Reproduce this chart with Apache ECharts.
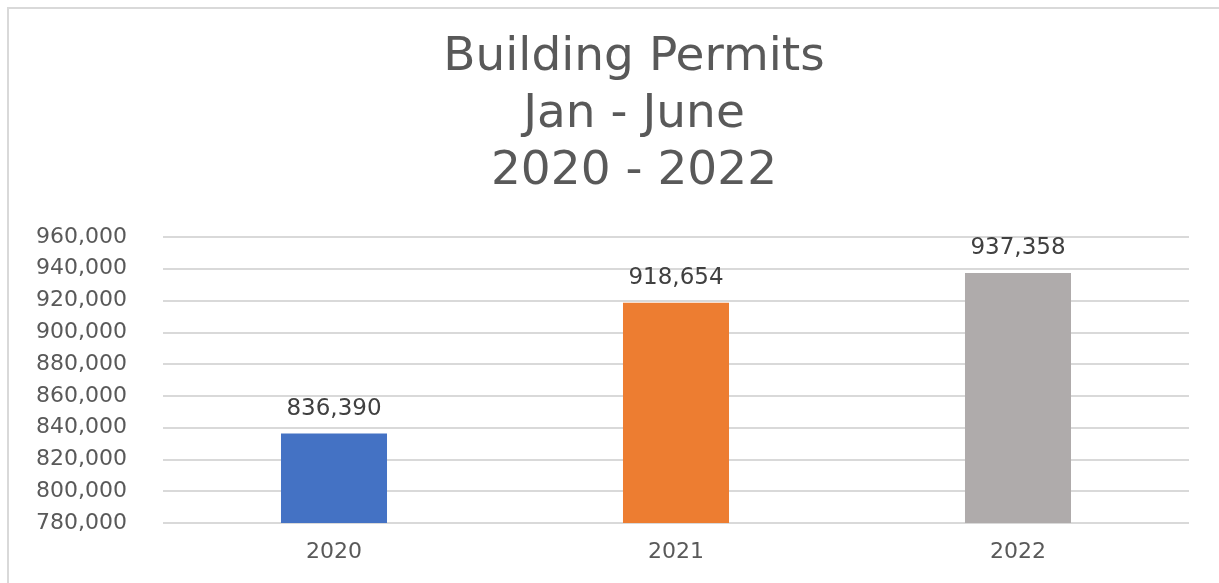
<!DOCTYPE html>
<html>
<head>
<meta charset="utf-8">
<script src="https://cdn.jsdelivr.net/npm/echarts@6/dist/echarts.min.js"></script>
<style>
    html, body { margin: 0; padding: 0; background: #fff; overflow: hidden; }
    .edge { position: absolute; background: #D9D9D9; }
    #edge_top { left: 7px; top: 7px; width: 1212px; height: 2px; }
    #edge_left { left: 7px; top: 7px; width: 2px; height: 576px; }
    #chart_box { position: absolute; left: 0; top: 0; width: 1219px; height: 583px; }
</style>
</head>
<body>
<div class="edge" id="edge_top"></div>
<div class="edge" id="edge_left"></div>
<div id="chart_box"></div>
<script>
// data
let years = ['2020', '2021', '2022'];
let permits = [836390, 918654, 937358];
let barColors = ['#4472C4', '#ED7D31', '#AFABAB'];

let myChart = echarts.init(document.getElementById('chart_box'));

let labelFont = '"DejaVu Sans", sans-serif';

let myOption = {
    backgroundColor: 'transparent',
    title: {
        text: 'Building Permits\nJan - June\n2020 - 2022',
        left: 634,
        top: 29,
        padding: 0,
        textAlign: 'center',
        textStyle: {
            fontFamily: labelFont,
            fontSize: 47,
            fontWeight: 'normal',
            color: '#595959',
            lineHeight: 57
        }
    },
    grid: {
        left: 163,
        right: 30,
        top: 237,
        bottom: 60
    },
    xAxis: {
        type: 'category',
        data: years,
        axisLine: { show: false },
        axisTick: { show: false },
        axisLabel: {
            margin: 18,
            fontFamily: labelFont,
            fontSize: 22,
            color: '#595959'
        }
    },
    yAxis: {
        type: 'value',
        min: 780000,
        max: 960000,
        interval: 20000,
        axisLine: { show: false },
        axisTick: { show: false },
        axisLabel: {
            margin: 36,
            fontFamily: labelFont,
            fontSize: 22,
            color: '#595959',
            formatter: function (v) {
                return v.toLocaleString('en-US');
            }
        },
        splitLine: {
            lineStyle: { color: '#D9D9D9', width: 2 }
        }
    },
    series: [{
        name: 'Building Permits',
        type: 'bar',
        barWidth: '31%',
        data: permits.map(function (v, i) {
            return { value: v, itemStyle: { color: barColors[i] } };
        }),
        label: {
            show: true,
            position: 'top',
            distance: 13,
            fontFamily: labelFont,
            fontSize: 23,
            color: '#404040',
            formatter: function (p) {
                return p.value.toLocaleString('en-US');
            }
        }
    }]
};

myChart.setOption(myOption);
</script>
</body>
</html>
